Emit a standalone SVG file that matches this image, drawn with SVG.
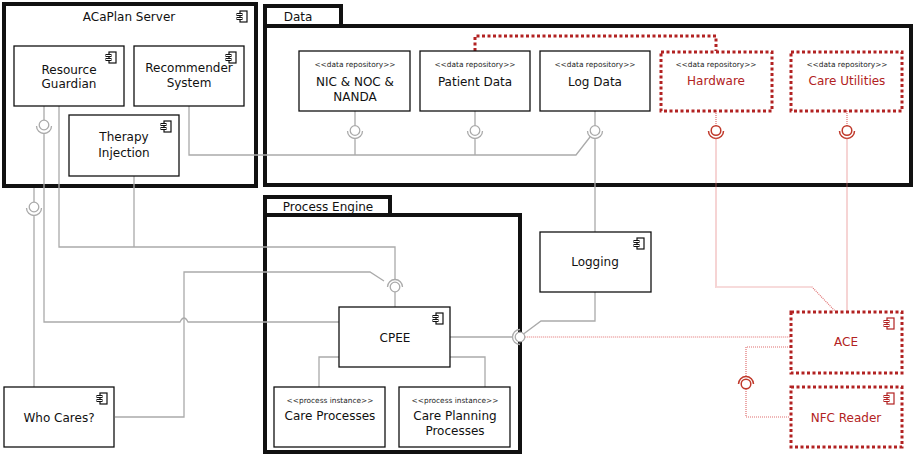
<svg xmlns="http://www.w3.org/2000/svg" width="914" height="454" viewBox="0 0 914 454">
<style>
text{font-family:"DejaVu Sans","Liberation Sans",sans-serif;font-size:12px;fill:#111;text-anchor:middle}
.st{font-size:7.4px;fill:#222}
.red{fill:#b22222}
.box{fill:#fff;stroke:#111;stroke-width:1.3}
.rbox{fill:#fff;stroke:#b22222;stroke-width:3;stroke-dasharray:3 2.5}
.pkg{fill:#fff;stroke:#111;stroke-width:4}
.c{fill:none;stroke:#aaa;stroke-width:1.3}
.rc{fill:none;stroke:#e07070;stroke-width:1.2;stroke-dasharray:1 1}
.ri{fill:none;stroke:#c0392b;stroke-width:1.5}
.ci{fill:#fff;stroke:#aaa;stroke-width:1.3}
.rci{fill:#fff;stroke:#c0392b;stroke-width:1.5}
</style>
<defs>
<g id="ic"><rect x="3" y="0" width="7" height="11" fill="#fff" stroke="#111" stroke-width="1.2"/><rect x="0" y="2.5" width="5" height="2" fill="#fff" stroke="#111" stroke-width="1"/><rect x="0" y="6.5" width="5" height="2" fill="#fff" stroke="#111" stroke-width="1"/></g>
<g id="ricon"><rect x="3" y="0" width="7" height="11" fill="#fff" stroke="#b22222" stroke-width="1.2"/><rect x="0" y="2.5" width="5" height="2" fill="#fff" stroke="#b22222" stroke-width="1"/><rect x="0" y="6.5" width="5" height="2" fill="#fff" stroke="#b22222" stroke-width="1"/></g>
</defs>

<g id="acaplan-server">
<rect class="pkg" x="4" y="4" width="252" height="182"/>
<text x="129" y="21">ACaPlan Server</text>
<use href="#ic" x="237" y="11"/>
</g>
<g id="data">
<rect class="pkg" x="265" y="6" width="76" height="20"/>
<rect class="pkg" x="265" y="26" width="646" height="159"/>
<text x="298" y="21">Data</text>
</g>
<g id="process-engine">
<rect class="pkg" x="265" y="197" width="125" height="18"/>
<rect class="pkg" x="265" y="215" width="255" height="237"/>
<text x="328" y="211">Process Engine</text>
</g>

<g id="connectors">
<path class="c" d="M355 111V126M347.5 131A7.5 7.5 0 0 0 362.5 131M355 138.5V155"/>
<circle class="ci" cx="355" cy="130.5" r="4.8"/>
<path class="c" d="M475 111V126M467.5 131A7.5 7.5 0 0 0 482.5 131M475 138.5V155"/>
<circle class="ci" cx="475" cy="130.5" r="4.8"/>
<path class="c" d="M595 111V126M587.5 131A7.5 7.5 0 0 0 602.5 131M595 138.5V232"/>
<circle class="ci" cx="595" cy="130.5" r="4.8"/>
<path class="c" d="M189 106V155H576L590 137"/>
<path class="ri" d="M708.5 131A7.5 7.5 0 0 0 723.5 131M839.5 131A7.5 7.5 0 0 0 854.5 131"/>
<path class="rc" d="M716 111V126M847 111V126M716 138.5V287H812L835 311M847 138.5V311"/>
<circle class="rci" cx="716" cy="130.5" r="4.8"/>
<circle class="rci" cx="847" cy="130.5" r="4.8"/>
<path fill="none" stroke="#b22222" stroke-width="3" stroke-dasharray="3 2.5" d="M475 51V36H716V51"/>
<path class="c" d="M44 106V120.5M36.5 126A7.5 7.5 0 0 0 51.5 126M44 133.5V322H180Q184 314 188 322H339"/>
<circle class="ci" cx="44" cy="125" r="4.8"/>
<path class="c" d="M59 106V247H395V279.5M134 176V247"/>
<path class="c" d="M115 417H184V272H370L384 281M387.5 287A7.5 7.5 0 0 1 402.5 287M395 291.8V307"/>
<circle class="ci" cx="395" cy="287" r="4.8"/>
<path class="c" d="M34 188V202.5M26.5 208A7.5 7.5 0 0 0 41.5 208M34 215.5V387"/>
<circle class="ci" cx="34" cy="207" r="4.8"/>
<path class="c" d="M339 357H319V387M450 357H485V387"/>
<path class="c" d="M450 337H512.5M520 329.5A7.5 7.5 0 0 0 520 344.5"/>
<path class="c" d="M595 292V321H541L523.5 334"/>
<path class="rc" d="M524.8 337H790"/>
<circle class="ci" cx="520" cy="337" r="4.8"/>
<path class="rc" d="M790 347H746V376.5M746 389V417H790"/>
<path class="ri" d="M738.5 384A7.5 7.5 0 0 1 753.5 384"/>
<circle class="rci" cx="746" cy="384" r="4.8"/>
</g>

<g id="resource-guardian">
<rect class="box" x="14" y="46" width="110" height="60"/>
<use href="#ic" x="106" y="52"/>
<text x="69" y="74">Resource</text>
<text x="69" y="88">Guardian</text>
</g>
<g id="recommender-system">
<rect class="box" x="134" y="46" width="110" height="60"/>
<use href="#ic" x="226" y="52"/>
<text x="189" y="72">Recommender</text>
<text x="189" y="87">System</text>
</g>
<g id="therapy-injection">
<rect class="box" x="69" y="115" width="110" height="61"/>
<use href="#ic" x="161" y="121"/>
<text x="124" y="141">Therapy</text>
<text x="124" y="157">Injection</text>
</g>

<g id="nic-noc-nanda">
<rect class="box" x="299" y="51" width="111" height="60"/>
<text class="st" x="355" y="67">&lt;&lt;data repository&gt;&gt;</text>
<text x="355" y="86">NIC &amp; NOC &amp;</text>
<text x="355" y="101">NANDA</text>
</g>
<g id="patient-data">
<rect class="box" x="420" y="51" width="110" height="60"/>
<text class="st" x="475" y="67">&lt;&lt;data repository&gt;&gt;</text>
<text x="475" y="86">Patient Data</text>
</g>
<g id="log-data">
<rect class="box" x="540" y="51" width="110" height="60"/>
<text class="st" x="595" y="67">&lt;&lt;data repository&gt;&gt;</text>
<text x="595" y="86">Log Data</text>
</g>
<g id="hardware">
<rect class="rbox" x="661" y="52" width="111" height="59"/>
<text class="st" x="716" y="67">&lt;&lt;data repository&gt;&gt;</text>
<text class="red" x="716" y="85">Hardware</text>
</g>
<g id="care-utilities">
<rect class="rbox" x="791" y="52" width="111" height="59"/>
<text class="st" x="847" y="67">&lt;&lt;data repository&gt;&gt;</text>
<text class="red" x="847" y="85">Care Utilities</text>
</g>

<g id="logging">
<rect class="box" x="540" y="232" width="111" height="60"/>
<use href="#ic" x="634" y="238"/>
<text x="595" y="266">Logging</text>
</g>
<g id="cpee">
<rect class="box" x="339" y="307" width="111" height="60"/>
<use href="#ic" x="433" y="313"/>
<text x="395" y="342">CPEE</text>
</g>
<g id="care-processes">
<rect class="box" x="274" y="387" width="111" height="60"/>
<text class="st" x="330" y="403">&lt;&lt;process instance&gt;&gt;</text>
<text x="330" y="420">Care Processes</text>
</g>
<g id="care-planning-processes">
<rect class="box" x="399" y="387" width="111" height="60"/>
<text class="st" x="455" y="403">&lt;&lt;process instance&gt;&gt;</text>
<text x="455" y="420">Care Planning</text>
<text x="455" y="435">Processes</text>
</g>
<g id="who-cares">
<rect class="box" x="4" y="387" width="110" height="60"/>
<use href="#ic" x="97" y="393"/>
<text x="59" y="422">Who Cares?</text>
</g>
<g id="ace">
<rect class="rbox" x="791" y="312" width="111" height="61"/>
<use href="#ricon" x="884" y="318"/>
<text class="red" x="846" y="346">ACE</text>
</g>
<g id="nfc-reader">
<rect class="rbox" x="791" y="387" width="111" height="60"/>
<use href="#ricon" x="884" y="393"/>
<text class="red" x="846" y="422">NFC Reader</text>
</g>
</svg>
